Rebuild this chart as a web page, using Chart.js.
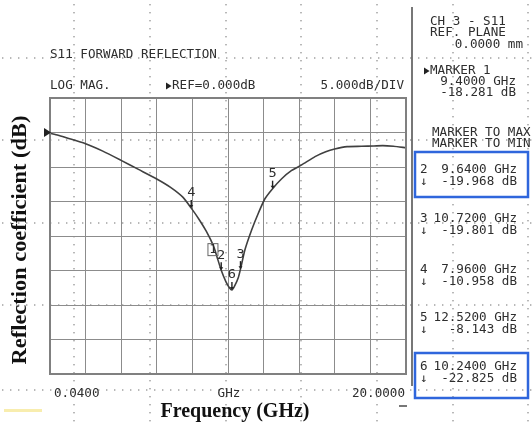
<!DOCTYPE html>
<html>
<head>
<meta charset="utf-8">
<script src="https://cdn.jsdelivr.net/npm/chart.js@4.4.1/dist/chart.umd.min.js"></script>
<style>
html, body { margin: 0; padding: 0; background: #fff; }
#wrap { width: 532px; height: 426px; position: relative; }
</style>
</head>
<body>
<div id="wrap"><canvas id="s11"></canvas></div>
<script>
// sweep: 0.04 .. 20 GHz, log mag, ref 0 dB, 5 dB/div
var xStart = 0.04;
var xStop = 20;
var yTop = 5;
var yBottom = -35;
var dbPerDiv = 5;

// trace
var freqGHz = [0.04, 0.5, 1.0, 2.0, 3.0, 4.0, 5.0, 6.0, 6.8, 7.5, 7.96, 8.4, 8.8, 9.2, 9.4,
    9.64, 9.9, 10.1, 10.24, 10.4, 10.6, 10.72, 10.97, 11.35, 11.72, 12.09, 12.52, 13.03,
    13.59, 14.15, 14.9, 15.5, 16.0, 16.7, 17.5, 18.2, 18.7, 19.3, 20.0];
var s11dB = [-0.1, -0.4, -0.8, -1.6, -2.7, -4.0, -5.35, -6.7, -7.95, -9.4, -10.96, -12.6, -14.3, -16.4, -18.0,
    -19.97, -21.6, -22.5, -22.83, -22.2, -21.0, -19.8, -17.0, -14.1, -11.7, -9.6, -8.14, -6.7,
    -5.5, -4.7, -3.5, -2.8, -2.4, -2.05, -2.0, -1.95, -1.9, -2.0, -2.2];

// markers
var markerNum = ["1", "2", "3", "4", "5", "6"];
var markerGHz = [9.40, 9.64, 10.72, 7.96, 12.52, 10.24];
var markerDb = [-18.281, -19.968, -19.801, -10.958, -8.143, -22.825];

// screen texts
var markerFreqText = ["9.4000 GHz", "9.6400 GHz", "10.7200 GHz", "7.9600 GHz", "12.5200 GHz", "10.2400 GHz"];
var markerDbText = ["-18.281 dB", "-19.968 dB", "-19.801 dB", "-10.958 dB", "-8.143 dB", "-22.825 dB"];
var xTickLabels = ["0.0400", "GHz", "20.0000"];

var xGrid = [];
for (let i = 0; i <= 10; i++) {
    xGrid.push(xStart + (xStop - xStart) * i / 10);
}

var ink = "#2e2e2e";

// plotter-like text, slightly widened
function hp(ctx, txt, x, y, align, size) {
    size = size || 12;
    ctx.save();
    ctx.font = size + 'px "DejaVu Sans Mono"';
    ctx.fillStyle = ink;
    ctx.textBaseline = "middle";
    var sx = 1.05;
    var w = ctx.measureText(txt).width * sx;
    var left = x;
    if (align == "right") left = x - w;
    if (align == "center") left = x - w / 2;
    ctx.translate(left, y);
    ctx.scale(sx, 1);
    ctx.fillText(txt, 0, 0);
    ctx.restore();
}

function tri(ctx, x, y, h) {
    ctx.beginPath();
    ctx.moveTo(x, y - h / 2);
    ctx.lineTo(x + h * 0.8, y);
    ctx.lineTo(x, y + h / 2);
    ctx.closePath();
    ctx.fill();
}

var screenPlugin = {
    id: "screen",
    beforeDraw: function(chart) {
        var ctx = chart.ctx;
        ctx.save();
        ctx.fillStyle = "#fff";
        ctx.fillRect(0, 0, chart.width, chart.height);
        // paper dot grid
        ctx.fillStyle = "#9a9a9a";
        var vx = [74, 150, 226, 301, 377, 453, 528];
        var hy = [58, 140, 223, 305, 390];
        vx.forEach(function(x) {
            for (let y = 4; y < chart.height; y += 8) ctx.fillRect(x - 0.7, y, 1.4, 1.4);
        });
        hy.forEach(function(y) {
            for (let x = 2; x < chart.width; x += 8) ctx.fillRect(x, y - 0.7, 1.4, 1.4);
        });
        // yellow smear bottom left
        ctx.fillStyle = "rgba(245,230,140,0.7)";
        ctx.fillRect(4, 409, 38, 3);
        ctx.restore();
    },
    afterDraw: function(chart) {
        var ctx = chart.ctx;
        var a = chart.chartArea;
        var xs = chart.scales.x, ys = chart.scales.y;
        ctx.save();

        // frame
        ctx.strokeStyle = "#808080";
        ctx.lineWidth = 2;
        ctx.strokeRect(a.left, a.top, a.right - a.left, a.bottom - a.top);

        // separator
        ctx.strokeStyle = "#555";
        ctx.lineWidth = 1.6;
        ctx.beginPath();
        ctx.moveTo(412, 7);
        ctx.lineTo(412, 386);
        ctx.stroke();
        ctx.beginPath();
        ctx.moveTo(399, 406);
        ctx.lineTo(407, 406);
        ctx.stroke();

        // ref arrow
        ctx.fillStyle = "#222";
        tri(ctx, a.left - 6, ys.getPixelForValue(0), 9);

        // header
        hp(ctx, "S11 FORWARD REFLECTION", 50, 55);
        hp(ctx, "LOG MAG.", 50, 86);
        ctx.fillStyle = "#222";
        tri(ctx, 166, 86, 7);
        hp(ctx, "REF=0.000dB", 172, 86);
        hp(ctx, dbPerDiv.toFixed(3) + "dB/DIV", 404, 86, "right");

        // x labels
        hp(ctx, xTickLabels[0], 54, 394);
        hp(ctx, xTickLabels[1], 229, 394, "center");
        hp(ctx, xTickLabels[2], 405, 394, "right");

        // right panel
        hp(ctx, "CH 3 - S11", 430, 22);
        hp(ctx, "REF. PLANE", 430, 33);
        hp(ctx, "0.0000 mm", 523, 45, "right");
        ctx.fillStyle = "#222";
        tri(ctx, 424, 71, 7);
        hp(ctx, "MARKER 1", 430, 71);
        hp(ctx, markerFreqText[0], 516, 82, "right");
        hp(ctx, markerDbText[0], 516, 93, "right");
        hp(ctx, "MARKER TO MAX", 432, 133);
        hp(ctx, "MARKER TO MIN", 432, 144);

        var rowY = [0, 170, 219, 270, 318, 367];
        for (let i = 1; i < markerNum.length; i++) {
            hp(ctx, markerNum[i], 420, rowY[i]);
            hp(ctx, markerFreqText[i], 517, rowY[i], "right");
            hp(ctx, "\u2193", 420, rowY[i] + 12);
            hp(ctx, markerDbText[i], 517, rowY[i] + 12, "right");
        }

        // highlighted rows
        ctx.strokeStyle = "#2f66dc";
        ctx.lineWidth = 2.5;
        ctx.strokeRect(415, 152, 113, 45);
        ctx.strokeRect(415, 353, 113, 45);

        // marker symbols on the trace
        for (let i = 0; i < markerNum.length; i++) {
            var px = xs.getPixelForValue(markerGHz[i]);
            var py = ys.getPixelForValue(markerDb[i]);
            if (i == 0) {
                ctx.strokeStyle = "#666";
                ctx.lineWidth = 1;
                ctx.strokeRect(px - 9, py - 15, 10, 12);
                hp(ctx, markerNum[i], px - 4, py - 9, "center");
            } else {
                ctx.strokeStyle = "#222";
                ctx.lineWidth = 1.4;
                ctx.beginPath();
                ctx.moveTo(px, py - 8);
                ctx.lineTo(px, py - 2);
                ctx.stroke();
                ctx.fillStyle = "#222";
                ctx.beginPath();
                ctx.moveTo(px - 2, py - 3);
                ctx.lineTo(px + 2, py - 3);
                ctx.lineTo(px, py);
                ctx.closePath();
                ctx.fill();
                hp(ctx, markerNum[i], px, py - 15, "center", 13);
            }
        }

        // figure titles
        ctx.fillStyle = "#111";
        ctx.font = 'bold 20px "Liberation Serif"';
        ctx.textAlign = "center";
        ctx.textBaseline = "middle";
        ctx.fillText("Frequency (GHz)", 235, 412);
        ctx.save();
        ctx.translate(21, 240);
        ctx.rotate(-Math.PI / 2);
        ctx.scale(1.12, 1);
        ctx.fillText("Reflection coefficient (dB)", 0, 0);
        ctx.restore();

        ctx.restore();
    }
};

var ctx = document.getElementById("s11").getContext("2d");
var chart = new Chart(ctx, {
    type: "line",
    data: {
        datasets: [{
            data: freqGHz.map((f, i) => ({ x: f, y: s11dB[i] })),
            borderColor: "#404040",
            borderWidth: 1.6,
            pointRadius: 0,
            tension: 0.2,
            fill: false
        }]
    },
    options: {
        responsive: true,
        maintainAspectRatio: false,
        animation: false,
        layout: { padding: { left: 50, top: 98, right: 126, bottom: 52 } },
        plugins: { legend: { display: false }, tooltip: { enabled: false } },
        scales: {
            x: {
                type: "linear",
                min: xStart,
                max: xStop,
                afterBuildTicks: function(axis) {
                    axis.ticks = xGrid.map(v => ({ value: v }));
                },
                ticks: { display: false },
                border: { display: false },
                grid: { color: "#8c8c8c", lineWidth: 1, borderDash: [1, 2], drawTicks: false }
            },
            y: {
                min: yBottom,
                max: yTop,
                ticks: { display: false, stepSize: dbPerDiv },
                border: { display: false },
                grid: { color: "#8c8c8c", lineWidth: 1, borderDash: [1, 2], drawTicks: false }
            }
        }
    },
    plugins: [screenPlugin]
});
</script>
</body>
</html>
